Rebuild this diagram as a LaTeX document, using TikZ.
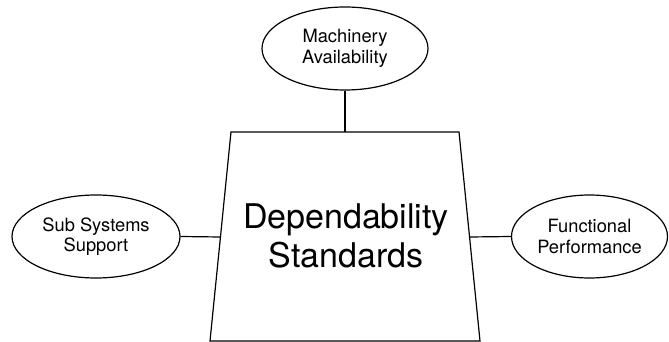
\documentclass[tikz,border=0pt]{standalone}
\usepackage{fontspec}
\setmainfont{TeX Gyre Heros}
\usetikzlibrary{shapes.geometric}
\begin{document}
\begin{tikzpicture}[x=1pt,y=-1pt,
  outline/.style={line width=1.2pt, draw=black},
  bubble/.style={outline, ellipse, minimum height=83pt, inner sep=0pt,
    align=center, font=\fontsize{18.3}{20.5}\selectfont},
  link/.style={line width=1.2pt}]
  \useasboundingbox (0,0) rectangle (669,342);

  % central block
  \coordinate (tl) at (231,132);
  \coordinate (tr) at (459,132);
  \coordinate (br) at (480,341);
  \coordinate (bl) at (210,341);
  \draw[outline, line join=miter] (tl) -- (tr) -- (br) -- (bl) -- cycle;
  \coordinate (topmid) at (345,132);
  \coordinate (leftmid) at (220.5,237);
  \coordinate (rightmid) at (469.5,237);
  \node[align=center, font=\fontsize{34}{39.5}\selectfont] (core) at (346,236)
    {Dependability\\Standards};

  % surrounding qualities
  \node[bubble, minimum width=166pt] (mach) at (345,48.5) {Machinery\\Availability};
  \node[bubble, minimum width=168pt] (sub) at (96,236.5) {Sub Systems\\Support};
  \node[bubble, minimum width=156pt] (func) at (589.5,236.5) {Functional\\Performance};

  % links to the block
  \draw[link] (mach.south) -- (topmid);
  \draw[link] (sub.east) -- (leftmid);
  \draw[link] (func.west) -- (rightmid);
\end{tikzpicture}
\end{document}
